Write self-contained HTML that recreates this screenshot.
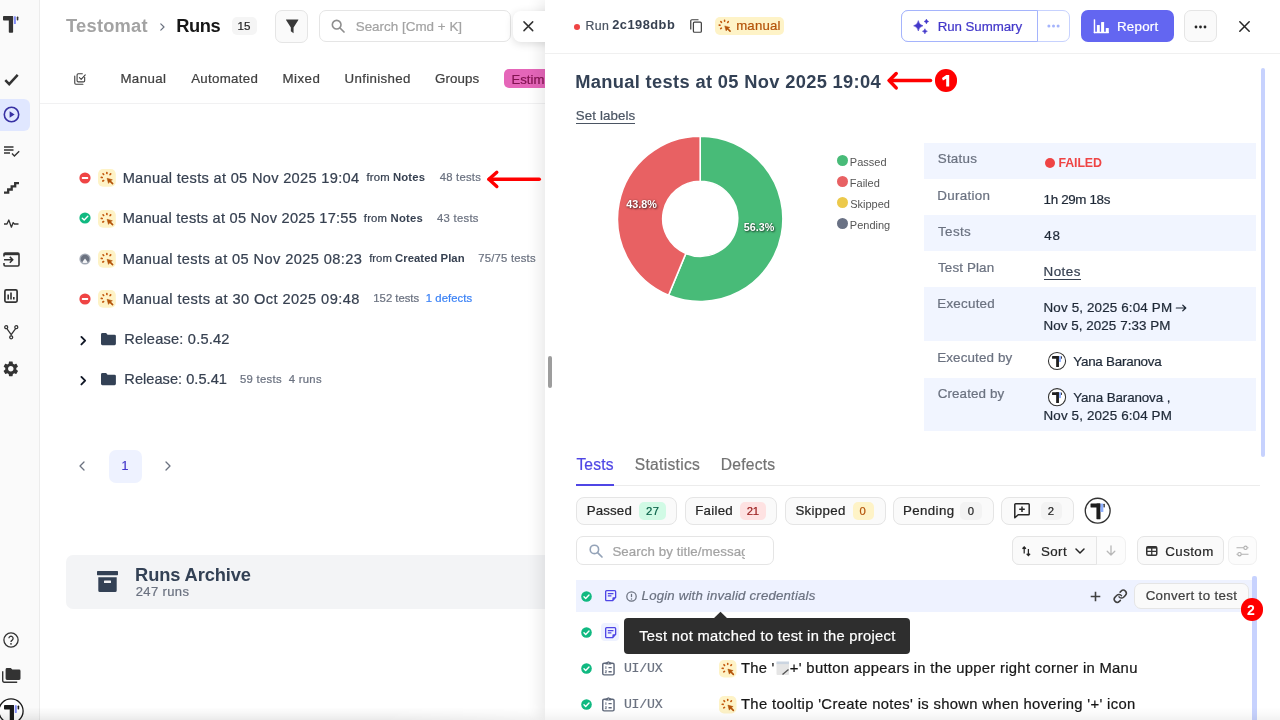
<!DOCTYPE html>
<html>
<head>
<meta charset="utf-8">
<title>Runs</title>
<style>
*{box-sizing:border-box;margin:0;padding:0}
html,body{width:1280px;height:720px;overflow:hidden;background:#fff}
body{font-family:"Liberation Sans",sans-serif;color:#374151;position:relative}
#wrap{position:absolute;left:0;top:0;width:1280px;height:720px;overflow:hidden;will-change:transform}
.abs{position:absolute}
.t{position:absolute;white-space:nowrap;line-height:1;-webkit-text-stroke:.22px currentColor}
b{-webkit-text-stroke:0}
svg{display:block;position:absolute;overflow:visible}
/* sidebar */
#side{left:0;top:0;width:40px;height:720px;background:#fafafa;border-right:1px solid #ececec}
#active{left:0;top:99px;width:30px;height:32px;background:#e0e7ff;border-radius:0 6px 6px 0}
/* main */
#main{left:40px;top:0;width:1240px;height:720px;background:#fff}
.btn{position:absolute;border:1px solid #e5e5e5;border-radius:6px;background:#fafafa}
/* panel */
#panel{left:545px;top:0;width:735px;height:720px;background:#fff;box-shadow:-5px 0 14px rgba(0,0,0,.085)}
#phead{left:0;top:0;width:735px;height:54px;border-bottom:1px solid #f0f0f0}
.row{position:absolute;left:379px;width:332px;height:36px}
.row.z{background:#eff3fe}
.lbl{position:absolute;left:14px;top:9px;font-size:14px;color:#6b7280;white-space:nowrap;line-height:16px}
.val{position:absolute;left:120px;top:13px;font-size:14px;color:#1f2937;white-space:nowrap;line-height:18px}
.fbtn{position:absolute;top:497px;height:28px;border:1px solid #e5e5e5;border-radius:7px;background:#fafafa}
.fbtn .t{top:6px;font-size:14.5px;color:#1f2937}
.cnt{position:absolute;top:4px;height:18px;border-radius:5px;font-size:13px;line-height:18px;text-align:center}
</style>
</head>
<body>
<div id="wrap">
<div id="main" class="abs"></div>
<!-- ===== header ===== -->
<div class="t" style="left:66.02px;top:16.51px;font-size:18.3px;font-weight:700;color:#a3a3a3;-webkit-text-stroke:0;letter-spacing:0.242px" id="t_testomat">Testomat</div>
<svg style="left:159.5px;top:22.5px" width="5" height="8" viewBox="0 0 5 8"><path d="M.8.800l3.200 3.200L.8 7.200" fill="none" stroke="#6b7280" stroke-width="1.200" stroke-linecap="round" stroke-linejoin="round"/></svg>
<div class="t" style="left:176.21px;top:16.51px;font-size:18.3px;font-weight:700;color:#171717;-webkit-text-stroke:0;letter-spacing:-0.410px" id="t_runs">Runs</div>
<div class="abs" style="left:232px;top:17px;width:25px;height:18px;border-radius:5px;background:#f5f5f5"></div>
<div class="t" style="left:237.53px;top:20.18px;font-size:11.6px;color:#262626;letter-spacing:0.058px" id="t_15">15</div>
<div class="btn" style="left:275px;top:10px;width:33px;height:33px;border-radius:7px"></div>
<svg style="left:283.750px;top:15.850px" width="16.400" height="20.700" viewBox="0 0 24 24" preserveAspectRatio="none"><path d="M3.300 4h17.400a.4.400 0 0 1 .3.650L14 13.400v6.600l-4-2.300v-4.300L3 4.650A.4.400 0 0 1 3.300 4z" fill="#3a3a3a"/></svg>
<div class="abs" style="left:319px;top:10px;width:192px;height:32px;border:1px solid #e5e5e5;border-radius:7px;background:#fff"></div>
<svg style="left:330px;top:18px" width="16" height="16" viewBox="0 0 24 24"><circle cx="10" cy="10" r="6.500" fill="none" stroke="#8e8e8e" stroke-width="2.400"/><path d="M15 15l6 6" stroke="#8e8e8e" stroke-width="2.600" stroke-linecap="round"/></svg>
<div class="t" style="left:355.70px;top:19.86px;font-size:13.4px;color:#a3a3a3;letter-spacing:0.021px" id="t_search">Search [Cmd + K]</div>


<!-- ===== tabs ===== -->
<div class="abs" style="left:40px;top:102.800px;width:510px;height:1.600px;background:#f1f1f2"></div>
<svg style="left:73px;top:72px" width="14" height="14" viewBox="0 0 24 24"><path d="M3 7v12a2 2 0 0 0 2 2h12" fill="none" stroke="#404040" stroke-width="1.900" stroke-linecap="round"/><path d="M20 9v6a2 2 0 0 1-2 2H9a2 2 0 0 1-2-2V5a2 2 0 0 1 2-2h7" fill="none" stroke="#404040" stroke-width="1.900" stroke-linecap="round"/><path d="M11 9.5l3 3 7-7.5" fill="none" stroke="#404040" stroke-width="1.900" stroke-linecap="round" stroke-linejoin="round"/></svg>
<div class="t" style="left:120.44px;top:72.44px;font-size:13.3px;color:#404040;letter-spacing:0.361px" id="t_manual">Manual</div>
<div class="t" style="left:191.20px;top:72.44px;font-size:13.3px;color:#404040;letter-spacing:0.287px" id="t_automated">Automated</div>
<div class="t" style="left:282.44px;top:72.44px;font-size:13.3px;color:#404040;letter-spacing:0.479px" id="t_mixed">Mixed</div>
<div class="t" style="left:344.50px;top:72.44px;font-size:13.3px;color:#404040;letter-spacing:0.328px" id="t_unfinished">Unfinished</div>
<div class="t" style="left:435.03px;top:72.44px;font-size:13.3px;color:#404040;letter-spacing:0.101px" id="t_groups">Groups</div>
<div class="abs" style="left:504px;top:69px;width:60px;height:19px;border-radius:5px;background:#e566b9"></div>
<div class="t" style="left:511.45px;top:72.61px;font-size:13.1px;color:#831452;letter-spacing:0.05px" id="t_estim">Estima</div>
<!-- ===== run list placeholder ===== -->
<svg style="left:78.700px;top:171.9px" width="12" height="12" viewBox="0 0 12 12"><circle cx="6" cy="6" r="5.6" fill="#ef4444"/><rect x="2.8" y="5.1" width="6.4" height="1.8" rx=".6" fill="#fff"/></svg>
<svg style="left:98.100px;top:169.4px" width="17.800" height="17.800" viewBox="0 0 17.700 17.700"><rect width="17.700" height="17.700" rx="5" fill="#fef3c7"/><g stroke="#c2570c" stroke-width="1.65" stroke-linecap="round"><path d="M8.84 4.40L8.82 3.50"/><path d="M5.61 5.45L5.01 4.79"/><path d="M4.20 8.49L3.30 8.35"/><path d="M5.56 11.48L4.82 11.98"/><path d="M12.02 5.55L12.60 4.85"/></g><path d="M9 9.200L14.300 10.700 12.500 11.700 10.400 14.300z" fill="#b45309" stroke="#b45309" stroke-width=".5" stroke-linejoin="round"/><path d="M12 12.100l2.500 2.400" stroke="#b45309" stroke-width="1.700" stroke-linecap="round"/></svg>
<div class="t" style="left:122.63px;top:171.04px;font-size:14.6px;color:#374151;letter-spacing:0.315px" id="t_run0">Manual tests at 05 Nov 2025 19:04</div>
<div class="t" style="left:366.53px;top:172.33px;font-size:11.3px;color:#374151;letter-spacing:0.147px" id="t_run0_0">from <b>Notes</b></div>
<div class="t" style="left:439.67px;top:172.33px;font-size:11.3px;color:#6b7280;letter-spacing:0.239px" id="t_run0_1">48 tests</div>
<svg style="left:78.700px;top:212.1px" width="12" height="12" viewBox="0 0 12 12"><circle cx="6" cy="6" r="5.6" fill="#10b981"/><path d="M3.3 6.2l1.9 1.9 3.6-3.8" fill="none" stroke="#fff" stroke-width="1.4" stroke-linecap="round" stroke-linejoin="round"/></svg>
<svg style="left:98.100px;top:209.6px" width="17.800" height="17.800" viewBox="0 0 17.700 17.700"><rect width="17.700" height="17.700" rx="5" fill="#fef3c7"/><g stroke="#c2570c" stroke-width="1.65" stroke-linecap="round"><path d="M8.84 4.40L8.82 3.50"/><path d="M5.61 5.45L5.01 4.79"/><path d="M4.20 8.49L3.30 8.35"/><path d="M5.56 11.48L4.82 11.98"/><path d="M12.02 5.55L12.60 4.85"/></g><path d="M9 9.200L14.300 10.700 12.500 11.700 10.400 14.300z" fill="#b45309" stroke="#b45309" stroke-width=".5" stroke-linejoin="round"/><path d="M12 12.100l2.500 2.400" stroke="#b45309" stroke-width="1.700" stroke-linecap="round"/></svg>
<div class="t" style="left:122.63px;top:211.34px;font-size:14.6px;color:#374151;letter-spacing:0.244px" id="t_run1">Manual tests at 05 Nov 2025 17:55</div>
<div class="t" style="left:363.83px;top:212.53px;font-size:11.3px;color:#374151;letter-spacing:0.192px" id="t_run1_0">from <b>Notes</b></div>
<div class="t" style="left:437.07px;top:212.53px;font-size:11.3px;color:#6b7280;letter-spacing:0.267px" id="t_run1_1">43 tests</div>
<svg style="left:78.700px;top:252.5px" width="12" height="12" viewBox="0 0 12 12"><defs><clipPath id="pc"><circle cx="6" cy="6" r="4.300"/></clipPath></defs><circle cx="6" cy="6" r="5.600" fill="#a3a9b5"/><circle cx="6" cy="6" r="4.300" fill="#6b7280"/><path d="M6 5.600L2.300 10.600h7.400z" fill="#f3f4f6" clip-path="url(#pc)"/></svg>
<svg style="left:98.100px;top:250.0px" width="17.800" height="17.800" viewBox="0 0 17.700 17.700"><rect width="17.700" height="17.700" rx="5" fill="#fef3c7"/><g stroke="#c2570c" stroke-width="1.65" stroke-linecap="round"><path d="M8.84 4.40L8.82 3.50"/><path d="M5.61 5.45L5.01 4.79"/><path d="M4.20 8.49L3.30 8.35"/><path d="M5.56 11.48L4.82 11.98"/><path d="M12.02 5.55L12.60 4.85"/></g><path d="M9 9.200L14.300 10.700 12.500 11.700 10.400 14.300z" fill="#b45309" stroke="#b45309" stroke-width=".5" stroke-linejoin="round"/><path d="M12 12.100l2.500 2.400" stroke="#b45309" stroke-width="1.700" stroke-linecap="round"/></svg>
<div class="t" style="left:122.63px;top:251.74px;font-size:14.6px;color:#374151;letter-spacing:0.400px" id="t_run2">Manual tests at 05 Nov 2025 08:23</div>
<div class="t" style="left:369.13px;top:252.73px;font-size:11.3px;color:#374151;letter-spacing:0.038px" id="t_run2_0">from <b>Created Plan</b></div>
<div class="t" style="left:478.24px;top:252.73px;font-size:11.3px;color:#6b7280;letter-spacing:0.210px" id="t_run2_1">75/75 tests</div>
<svg style="left:78.700px;top:292.8px" width="12" height="12" viewBox="0 0 12 12"><circle cx="6" cy="6" r="5.6" fill="#ef4444"/><rect x="2.8" y="5.1" width="6.4" height="1.8" rx=".6" fill="#fff"/></svg>
<svg style="left:98.100px;top:290.3px" width="17.800" height="17.800" viewBox="0 0 17.700 17.700"><rect width="17.700" height="17.700" rx="5" fill="#fef3c7"/><g stroke="#c2570c" stroke-width="1.65" stroke-linecap="round"><path d="M8.84 4.40L8.82 3.50"/><path d="M5.61 5.45L5.01 4.79"/><path d="M4.20 8.49L3.30 8.35"/><path d="M5.56 11.48L4.82 11.98"/><path d="M12.02 5.55L12.60 4.85"/></g><path d="M9 9.200L14.300 10.700 12.500 11.700 10.400 14.300z" fill="#b45309" stroke="#b45309" stroke-width=".5" stroke-linejoin="round"/><path d="M12 12.100l2.500 2.400" stroke="#b45309" stroke-width="1.700" stroke-linecap="round"/></svg>
<div class="t" style="left:122.63px;top:291.94px;font-size:14.6px;color:#374151;letter-spacing:0.425px" id="t_run3">Manual tests at 30 Oct 2025 09:48</div>
<div class="t" style="left:373.35px;top:293.03px;font-size:11.3px;color:#6b7280;letter-spacing:-0.004px" id="t_run3_0">152 tests</div>
<div class="t" style="left:425.75px;top:293.03px;font-size:11.3px;color:#3b82f6;letter-spacing:0.058px" id="t_run3_1">1 defects</div>
<svg style="left:80.200px;top:335.6px" width="7.500" height="9.400" viewBox="0 0 8 10"><path d="M1.500 1l4 4-4 4" fill="none" stroke="#111827" stroke-width="2" stroke-linecap="round" stroke-linejoin="round"/></svg>
<svg style="left:101.300px;top:332.9px" width="14.900" height="12.200" viewBox="0 0 16 13"><path d="M0 1.5A1.5 1.5 0 0 1 1.5 0h4l1.6 1.8h7.4A1.5 1.5 0 0 1 16 3.3v8.2a1.5 1.5 0 0 1-1.5 1.5h-13A1.5 1.5 0 0 1 0 11.5z" fill="#334155"/></svg>
<div class="t" style="left:124.33px;top:331.94px;font-size:14.6px;color:#374151;letter-spacing:0.209px" id="t_rel0">Release: 0.5.42</div>
<svg style="left:80.200px;top:375.6px" width="7.500" height="9.400" viewBox="0 0 8 10"><path d="M1.500 1l4 4-4 4" fill="none" stroke="#111827" stroke-width="2" stroke-linecap="round" stroke-linejoin="round"/></svg>
<svg style="left:101.300px;top:372.9px" width="14.900" height="12.200" viewBox="0 0 16 13"><path d="M0 1.5A1.5 1.5 0 0 1 1.5 0h4l1.6 1.8h7.4A1.5 1.5 0 0 1 16 3.3v8.2a1.5 1.5 0 0 1-1.5 1.5h-13A1.5 1.5 0 0 1 0 11.5z" fill="#334155"/></svg>
<div class="t" style="left:124.33px;top:372.04px;font-size:14.6px;color:#374151;letter-spacing:0.025px" id="t_rel1">Release: 0.5.41</div>
<div class="t" style="left:240.05px;top:373.63px;font-size:11.3px;color:#6b7280;letter-spacing:0.285px" id="t_rel1_0">59 tests</div>
<div class="t" style="left:288.77px;top:373.63px;font-size:11.3px;color:#6b7280;letter-spacing:0.281px" id="t_rel1_1">4 runs</div>

<svg style="left:79px;top:461px" width="6" height="10" viewBox="0 0 6 10"><path d="M5 1L1 5l4 4" fill="none" stroke="#6b7280" stroke-width="1.3" stroke-linecap="round" stroke-linejoin="round"/></svg>
<div class="abs" style="left:108.800px;top:450px;width:33px;height:32.500px;border-radius:7px;background:#eef2ff"></div>
<div class="t" style="left:121.56px;top:459.92px;font-size:12.5px;color:#4338ca" id="t_pg">1</div>
<svg style="left:165px;top:461px" width="6" height="10" viewBox="0 0 6 10"><path d="M1 1l4 4-4 4" fill="none" stroke="#6b7280" stroke-width="1.3" stroke-linecap="round" stroke-linejoin="round"/></svg>
<div class="abs" style="left:66px;top:555px;width:500px;height:54px;border-radius:7px;background:#f3f4f6"></div>
<svg style="left:97px;top:571px" width="21" height="21" viewBox="0 0 21 21"><rect x="0" y="0" width="21" height="4.2" rx=".6" fill="#334155"/><path d="M1.3 6.2h18.4v13.3a1.5 1.5 0 0 1-1.5 1.5H2.8a1.5 1.5 0 0 1-1.5-1.5z" fill="#334155"/><rect x="7" y="9.5" width="7" height="2.4" rx=".5" fill="#f3f4f6"/></svg>
<div class="t" style="left:135.11px;top:565.81px;font-size:18.3px;font-weight:700;color:#334155;-webkit-text-stroke:0;letter-spacing:-0.124px" id="t_arch">Runs Archive</div>
<div class="t" style="left:135.65px;top:585.30px;font-size:13px;color:#6b7280;letter-spacing:0.391px" id="t_arch2">247 runs</div>
<!--MAINEND-->
<div id="side" class="abs"><div id="active" class="abs"></div>
<svg style="left:3.05px;top:16.25px" width="16.00" height="17.00" viewBox="0 0 16 17"><rect x="0" y="0" width="10.100" height="4.600" rx=".8" fill="#333"/><rect x="5.800" y="0" width="4.300" height="16.800" rx=".8" fill="#333"/><rect x="10.900" y=".3" width="2" height="7.800" rx=".4" fill="#818cf8"/><rect x="13.750" y=".5" width="1.600" height="4.100" rx=".75" fill="#333"/></svg>
<svg style="left:4px;top:73px" width="15" height="13" viewBox="0 0 15 13"><path d="M1.3 7.2l3.9 3.9L13.7 1.8" fill="none" stroke="#333" stroke-width="2.5"/></svg>
<svg style="left:2.500px;top:105.900px" width="17" height="17" viewBox="0 0 17 17"><circle cx="8.5" cy="8.5" r="7.2" fill="none" stroke="#3730a3" stroke-width="1.6"/><path d="M6.6 5.2l5 3.3-5 3.3z" fill="#3730a3"/></svg>
<svg style="left:3.5px;top:146px" width="16" height="11" viewBox="0 0 16 11"><g stroke="#333" stroke-width="1.5" fill="none"><path d="M0 1h9.5M0 4h9.5M0 7h6"/><path d="M8 7.6l2.4 2.4 4.8-4.8" stroke-width="1.4"/></g></svg>
<svg style="left:4px;top:182px" width="15" height="12" viewBox="0 0 15 12"><path d="M0 10.7h4.2V7.5h3.5V4.3h3.5V1.2H15" fill="none" stroke="#333" stroke-width="2.3"/></svg>
<svg style="left:4px;top:219px" width="15" height="9" viewBox="0 0 15 9"><path d="M0 5h3l1.8-4 2.6 7.2L9.2 3.6 10.4 5H14.5" fill="none" stroke="#333" stroke-width="1.3" stroke-linejoin="round"/></svg>
<svg style="left:2.5px;top:252px" width="17" height="15" viewBox="0 0 17 15"><path d="M1 4.5V2.2A1.2 1.2 0 0 1 2.2 1h12.6A1.2 1.2 0 0 1 16 2.2v10.6a1.2 1.2 0 0 1-1.2 1.2H2.2A1.2 1.2 0 0 1 1 12.8V11" fill="none" stroke="#333" stroke-width="1.6"/><rect x="1" y="1" width="15" height="2.2" fill="#333"/><path d="M1 7.8h8.6M6.8 4.9l2.9 2.9-2.9 2.9" fill="none" stroke="#333" stroke-width="1.5"/></svg>
<svg style="left:4px;top:288.5px" width="14" height="14" viewBox="0 0 14 14"><rect x=".9" y=".9" width="12.2" height="12.2" rx="1.3" fill="none" stroke="#333" stroke-width="1.7"/><path d="M4.2 5.5v5M7 3.6v6.9M9.8 8v2.5" stroke="#333" stroke-width="1.6"/></svg>
<svg style="left:4px;top:324.5px" width="14.5" height="14.5" viewBox="0 0 14.5 14.5"><g fill="none" stroke="#333" stroke-width="1.3"><circle cx="2.2" cy="2.2" r="1.5"/><circle cx="12.3" cy="2.2" r="1.5"/><circle cx="7.2" cy="12.3" r="1.5"/><path d="M2.9 3.6l4.3 6v1.2M11.6 3.6l-4.4 6"/></g></svg>
<svg style="left:3.2px;top:360.5px" width="15.6" height="15.6" viewBox="0 0 24 24"><path fill="#333" d="M19.14 12.94c.04-.3.06-.61.06-.94 0-.32-.02-.64-.07-.94l2.03-1.58a.49.49 0 0 0 .12-.61l-1.92-3.32a.488.488 0 0 0-.59-.22l-2.39.96c-.5-.38-1.03-.7-1.62-.94l-.36-2.54a.484.484 0 0 0-.48-.41h-3.84c-.24 0-.43.17-.47.41l-.36 2.54c-.59.24-1.13.57-1.62.94l-2.39-.96c-.22-.08-.47 0-.59.22L2.74 8.87c-.12.21-.08.47.12.61l2.03 1.58c-.05.3-.09.63-.09.94s.02.64.07.94l-2.03 1.58a.49.49 0 0 0-.12.61l1.92 3.32c.12.22.37.29.59.22l2.39-.96c.5.38 1.03.7 1.62.94l.36 2.54c.05.24.24.41.48.41h3.84c.24 0 .44-.17.47-.41l.36-2.54c.59-.24 1.13-.56 1.62-.94l2.39.96c.22.08.47 0 .59-.22l1.92-3.32c.12-.22.07-.47-.12-.61l-2.01-1.58zM12 15.6c-1.98 0-3.600-1.62-3.600-3.600s1.62-3.600 3.600-3.600 3.600 1.62 3.600 3.600-1.62 3.600-3.600 3.600z" transform="translate(12 12) scale(1.18) translate(-12 -12)"/></svg>
<svg style="left:3px;top:631.5px" width="16" height="16" viewBox="0 0 16 16"><circle cx="8" cy="8" r="7.1" fill="none" stroke="#333" stroke-width="1.3"/><path d="M5.9 6.3a2.1 2.1 0 1 1 3.3 1.8c-.8.5-1.2.9-1.2 1.8" fill="none" stroke="#333" stroke-width="1.3"/><circle cx="8" cy="11.8" r=".9" fill="#333"/></svg>
<svg style="left:2px;top:668px" width="18.5" height="15" viewBox="0 0 18.5 15"><path d="M3.6 1.4A1.4 1.4 0 0 1 5 0h3.8l1.5 1.6h6.8a1.4 1.4 0 0 1 1.4 1.4v7.6a1.4 1.4 0 0 1-1.4 1.4H5a1.4 1.4 0 0 1-1.4-1.4z" fill="#333"/><path d="M.7 3.2v9.6a1.5 1.5 0 0 0 1.5 1.5h13" fill="none" stroke="#333" stroke-width="1.4"/></svg>
<svg style="left:-1.800px;top:697.800px" width="26" height="26" viewBox="0 0 26 26"><circle cx="13" cy="13" r="12.100" fill="#fff" stroke="#1a1a1a" stroke-width="1.3"/></svg>
<svg style="left:3.7px;top:705.3px" width="15.84" height="16.83" viewBox="0 0 16 17"><rect x="0" y="0" width="10.100" height="4.600" rx=".8" fill="#1a1a1a"/><rect x="5.800" y="0" width="4.300" height="16.800" rx=".8" fill="#1a1a1a"/><rect x="10.900" y=".3" width="2" height="7.800" rx=".4" fill="#818cf8"/><rect x="13.750" y=".5" width="1.600" height="4.100" rx=".75" fill="#1a1a1a"/></svg>
</div>
<div id="panel" class="abs"><div id="phead" class="abs"></div></div>
<div class="abs" style="left:480px;top:0;width:65px;height:70px;overflow:hidden"><div class="abs" style="left:33px;top:10.500px;width:60px;height:31.500px;border-radius:8px;background:#fff;box-shadow:0 2px 9px rgba(0,0,0,.13)"></div>
<svg style="left:43.300px;top:21.200px" width="10.700" height="10.500" viewBox="0 0 12 12"><path d="M1 1l10 10M11 1L1 11" stroke="#333" stroke-width="1.700" stroke-linecap="round"/></svg></div>
<svg style="left:572.700px;top:22.900px" width="8" height="8" viewBox="0 0 8 8"><circle cx="4" cy="4" r="3.050" fill="#ef4444"/></svg>
<div class="t" style="left:585.62px;top:19.79px;font-size:12.3px;color:#4b5563;letter-spacing:0.326px" id="p_run">Run</div>
<div class="t" style="left:612.15px;top:19.36px;font-size:12.8px;font-weight:700;color:#374151;-webkit-text-stroke:0;letter-spacing:0.513px" id="p_runid">2c198dbb</div>
<svg style="left:690px;top:19.200px" width="12.300" height="14.200" viewBox="0 0 13 15"><path d="M9 .8H2A1.2 1.2 0 0 0 .8 2v9" fill="none" stroke="#404040" stroke-width="1.3"/><rect x="3.6" y="3.4" width="8.4" height="10.6" rx="1.1" fill="none" stroke="#404040" stroke-width="1.3"/></svg>
<div class="abs" style="left:715px;top:17px;width:68.500px;height:17.600px;border-radius:5px;background:#fef3c7"></div>
<svg style="left:716.300px;top:17.300px" width="17.200" height="17.200" viewBox="0 0 17.700 17.700"><g stroke="#c2570c" stroke-width="1.65" stroke-linecap="round"><path d="M8.84 4.40L8.82 3.50"/><path d="M5.61 5.45L5.01 4.79"/><path d="M4.20 8.49L3.30 8.35"/><path d="M5.56 11.48L4.82 11.98"/><path d="M12.02 5.55L12.60 4.85"/></g><path d="M9 9.200L14.300 10.700 12.500 11.700 10.400 14.300z" fill="#b45309" stroke="#b45309" stroke-width=".5" stroke-linejoin="round"/><path d="M12 12.100l2.500 2.400" stroke="#b45309" stroke-width="1.700" stroke-linecap="round"/></svg>
<div class="t" style="left:736.14px;top:19.43px;font-size:13.2px;color:#b45309;letter-spacing:0.224px" id="p_manual">manual</div>
<div class="abs" style="left:901px;top:10px;width:169px;height:32px;border:1px solid #c7d2fe;border-radius:7px;background:#fff"></div>
<div class="abs" style="left:901px;top:10px;width:137px;height:32px;border:1px solid #a5b4fc;border-radius:7px 0 0 7px;background:#fff"></div>
<svg style="left:0;top:0" width="1280" height="60" viewBox="0 0 1280 60"><path d="M918.30 20.60Q919.05 24.97 923.00 25.80Q919.05 26.63 918.30 31.00Q917.55 26.63 913.60 25.80Q917.55 24.97 918.30 20.60ZM926.40 19.10Q926.77 21.12 928.70 21.50Q926.77 21.88 926.40 23.90Q926.03 21.88 924.10 21.50Q926.03 21.12 926.40 19.10ZM924.90 28.70Q925.30 30.88 927.40 31.30Q925.30 31.72 924.90 33.90Q924.50 31.72 922.40 31.30Q924.50 30.88 924.90 28.70Z" fill="#4338ca" stroke="#4338ca" stroke-width=".5" stroke-linejoin="round"/></svg>
<div class="t" style="left:937.64px;top:19.74px;font-size:13.3px;color:#4338ca;letter-spacing:-0.052px" id="p_runsum">Run Summary</div>
<svg style="left:1047.300px;top:24.400px" width="13" height="4" viewBox="0 0 13 4"><circle cx="1.900" cy="2" r="1.500" fill="#a5b4fc"/><circle cx="6.500" cy="2" r="1.500" fill="#a5b4fc"/><circle cx="11.100" cy="2" r="1.500" fill="#a5b4fc"/></svg>
<div class="abs" style="left:1081px;top:10px;width:93px;height:32px;border-radius:7px;background:#6366f1"></div>
<svg style="left:1093px;top:19px" width="16" height="14.500" viewBox="0 0 16 14.500"><g fill="#fff"><rect x=".75" y=".2" width="1.450" height="14" rx=".6"/><rect x=".75" y="12.650" width="15.150" height="1.550" rx=".4"/><rect x="3.900" y="6" width="2.900" height="7.500" rx=".5"/><rect x="8.100" y="3" width="3" height="10.500" rx=".5"/><rect x="12.800" y="8.900" width="3" height="4.600" rx=".5"/></g></svg>
<div class="t" style="left:1116.94px;top:19.64px;font-size:13.3px;color:#fff;letter-spacing:0.266px" id="p_report">Report</div>
<div class="btn" style="left:1184px;top:10px;width:33px;height:32px;border-radius:7px"></div>
<svg style="left:1194px;top:24.500px" width="13" height="4" viewBox="0 0 13 4"><circle cx="2" cy="2" r="1.400" fill="#262626"/><circle cx="6.500" cy="2" r="1.400" fill="#262626"/><circle cx="11" cy="2" r="1.400" fill="#262626"/></svg>
<svg style="left:1238.500px;top:21px" width="11" height="11" viewBox="0 0 11 11"><path d="M.8.800l9.400 9.400M10.200.800L.8 10.200" stroke="#262626" stroke-width="1.500" stroke-linecap="round"/></svg>
<div class="t" style="left:575.21px;top:72.51px;font-size:18.3px;font-weight:700;color:#334155;-webkit-text-stroke:0;letter-spacing:0.337px" id="p_title">Manual tests at 05 Nov 2025 19:04</div>
<svg style="left:0;top:0" width="1280" height="200" viewBox="0 0 1280 200"><g fill="none" stroke="#ff0000" stroke-width="3.500" stroke-linecap="round" stroke-linejoin="round"><path d="M889.300 80.500H930.500"/><path d="M896.200 73.600L889.200 80.500l7 7.400"/></g><g fill="none" stroke="#ff0000" stroke-width="3.400" stroke-linecap="round" stroke-linejoin="round"><path d="M489 179.300H539.300"/><path d="M496.800 172.300L488.900 179.300l7.900 7.200"/></g></svg>
<div class="abs" style="left:934.800px;top:69.200px;width:22.400px;height:22.400px;border-radius:11.200px;background:#ff0000"></div>
<svg style="left:941.600px;top:74.700px" width="7.200" height="11.500" viewBox="0 0 7.200 11.500"><path d="M4.300 0H7.200V11.500H4.200V3.700L.9 5.500 0 3.100z" fill="#fff"/></svg>
<div class="t" style="left:575.80px;top:109.04px;font-size:13.3px;color:#4b5563;border-bottom:1px solid #4b5563;padding-bottom:1px;letter-spacing:0.120px" id="p_setlabels">Set labels</div>
<div class="abs" style="left:1261px;top:68px;width:4px;height:389px;border-radius:2px;background:#c7d2fe"></div>
<svg style="left:0;top:0" width="1280" height="720" viewBox="0 0 1280 720"><path d="M700.20 136.10A82.7 82.7 0 1 1 668.55 295.20L685.85 253.45A37.5 37.5 0 1 0 700.20 181.30Z" fill="#48bb78" stroke="#fff" stroke-width="1.600" stroke-linejoin="round"/><path d="M668.55 295.20A82.7 82.7 0 0 1 700.20 136.10L700.20 181.30A37.5 37.5 0 0 0 685.85 253.45Z" fill="#e86163" stroke="#fff" stroke-width="1.600" stroke-linejoin="round"/></svg>
<div class="t" style="left:626.24px;top:198.56px;font-size:10.8px;font-weight:700;color:#fff;text-shadow:1px 1px 2px rgba(0,0,0,.6),0 0 2px rgba(0,0,0,.35);-webkit-text-stroke:0" id="d_f">43.8%</div>
<div class="t" style="left:743.68px;top:222.46px;font-size:10.8px;font-weight:700;color:#fff;text-shadow:1px 1px 2px rgba(0,0,0,.6),0 0 2px rgba(0,0,0,.35);-webkit-text-stroke:0" id="d_p">56.3%</div>
<div class="abs" style="left:837px;top:154.7px;width:11px;height:11px;border-radius:6px;background:#48bb78"></div>
<div class="t" style="left:849.82px;top:157.09px;font-size:11px;color:#555;-webkit-text-stroke:0" id="lg0">Passed</div>
<div class="abs" style="left:837px;top:175.7px;width:11px;height:11px;border-radius:6px;background:#e86163"></div>
<div class="t" style="left:849.82px;top:178.19px;font-size:11px;color:#555;-webkit-text-stroke:0" id="lg1">Failed</div>
<div class="abs" style="left:837px;top:196.7px;width:11px;height:11px;border-radius:6px;background:#ecc94b"></div>
<div class="t" style="left:850.21px;top:199.29px;font-size:11px;color:#555;-webkit-text-stroke:0" id="lg2">Skipped</div>
<div class="abs" style="left:837px;top:218.2px;width:11px;height:11px;border-radius:6px;background:#697184"></div>
<div class="t" style="left:849.82px;top:220.39px;font-size:11px;color:#555;-webkit-text-stroke:0" id="lg3">Pending</div>
<div class="abs" style="left:923.800px;top:142.6px;width:332.400px;height:36px;background:#f1f5ff;"></div>
<div class="t" style="left:937.70px;top:152.46px;font-size:13.4px;color:#6b7280;letter-spacing:0.257px" id="tl0">Status</div>
<div class="abs" style="left:923.800px;top:178.6px;width:332.400px;height:36.1px;"></div>
<div class="t" style="left:937.23px;top:188.76px;font-size:13.4px;color:#6b7280;letter-spacing:0.318px" id="tl1">Duration</div>
<div class="abs" style="left:923.800px;top:214.7px;width:332.400px;height:36.1px;background:#f1f5ff;"></div>
<div class="t" style="left:938.03px;top:224.86px;font-size:13.4px;color:#6b7280;letter-spacing:0.362px" id="tl2">Tests</div>
<div class="abs" style="left:923.800px;top:250.8px;width:332.400px;height:36px;"></div>
<div class="t" style="left:938.03px;top:260.96px;font-size:13.4px;color:#6b7280;letter-spacing:0.125px" id="tl3">Test Plan</div>
<div class="abs" style="left:923.800px;top:286.8px;width:332.400px;height:54px;background:#f1f5ff;"></div>
<div class="t" style="left:937.23px;top:296.96px;font-size:13.4px;color:#6b7280;letter-spacing:0.243px" id="tl4">Executed</div>
<div class="abs" style="left:923.800px;top:340.8px;width:332.400px;height:36.7px;"></div>
<div class="t" style="left:937.23px;top:351.16px;font-size:13.4px;color:#6b7280;letter-spacing:0.131px" id="tl5">Executed by</div>
<div class="abs" style="left:923.800px;top:377.5px;width:332.400px;height:53.8px;background:#f1f5ff;"></div>
<div class="t" style="left:937.63px;top:387.36px;font-size:13.4px;color:#6b7280;letter-spacing:0.127px" id="tl6">Created by</div>
<div class="abs" style="left:1045px;top:158px;width:10px;height:10px;border-radius:5px;background:#ef4444"></div>
<div class="t" style="left:1058.49px;top:157.30px;font-size:12.4px;font-weight:700;color:#ef4444;-webkit-text-stroke:0;letter-spacing:-0.116px" id="tv0">FAILED</div>
<div class="t" style="left:1043.59px;top:192.66px;color:#1f2937;font-size:13.4px;letter-spacing:-0.349px" id="tv1">1h 29m 18s</div>
<div class="t" style="left:1044.33px;top:228.56px;color:#1f2937;font-size:13.4px;letter-spacing:0.730px" id="tv2">48</div>
<div class="t" style="left:1043.53px;top:264.66px;color:#1f2937;font-size:13.4px;border-bottom:1px solid #374151;padding-bottom:1px;color:#374151;letter-spacing:0.492px" id="tv3">Notes</div>
<div class="t" style="left:1043.53px;top:300.66px;color:#1f2937;font-size:13.4px;letter-spacing:0.151px" id="tv4">Nov 5, 2025 6:04 PM</div>
<svg style="left:1176.300px;top:303.500px" width="10.500" height="8" viewBox="0 0 10.500 8"><path d="M.3 4h9.500M6.800 1.200L9.800 4 6.800 6.800" fill="none" stroke="#1f2937" stroke-width="1.200" stroke-linecap="round" stroke-linejoin="round"/></svg>
<div class="t" style="left:1043.53px;top:318.86px;color:#1f2937;font-size:13.4px;letter-spacing:0.057px" id="tv4b">Nov 5, 2025 7:33 PM</div>
<svg style="left:0;top:0" width="1280" height="720" viewBox="0 0 1280 720"><circle cx="1057.03" cy="361.03" r="8.57" fill="#fff" stroke="#333" stroke-width="1.05"/><rect x="1052.04" y="356.10" width="6.93" height="2.66" rx="0.30" fill="#1f1f1f"/><rect x="1056.15" y="356.10" width="2.82" height="10.85" rx="0.30" fill="#1f1f1f"/><rect x="1058.97" y="356.10" width="1.98" height="5.80" fill="#8fb0ff"/><rect x="1061.10" y="356.28" width="0.85" height="2.50" rx="0.30" fill="#1f1f1f"/></svg>
<div class="t" style="left:1073.23px;top:354.66px;color:#1f2937;font-size:13.4px;letter-spacing:-0.235px" id="tv5">Yana Baranova</div>
<svg style="left:0;top:0" width="1280" height="720" viewBox="0 0 1280 720"><circle cx="1057.03" cy="397.20" r="8.57" fill="#fff" stroke="#333" stroke-width="1.05"/><rect x="1052.04" y="392.27" width="6.93" height="2.66" rx="0.30" fill="#1f1f1f"/><rect x="1056.15" y="392.27" width="2.82" height="10.85" rx="0.30" fill="#1f1f1f"/><rect x="1058.97" y="392.27" width="1.98" height="5.80" fill="#8fb0ff"/><rect x="1061.10" y="392.45" width="0.85" height="2.50" rx="0.30" fill="#1f1f1f"/></svg>
<div class="t" style="left:1073.23px;top:390.86px;color:#1f2937;font-size:13.4px;letter-spacing:-0.116px" id="tv6">Yana Baranova ,</div>
<div class="t" style="left:1043.53px;top:408.86px;color:#1f2937;font-size:13.4px;letter-spacing:0.140px" id="tv6b">Nov 5, 2025 6:04 PM</div>
<div class="abs" style="left:576px;top:485px;width:684px;height:1px;background:#ececec"></div>
<div class="abs" style="left:576px;top:484px;width:37.5px;height:2px;background:#4f46e5"></div>
<div class="t" style="left:576.39px;top:456.99px;font-size:15.6px;color:#4f46e5;letter-spacing:0.183px" id="tb0">Tests</div>
<div class="t" style="left:634.70px;top:456.99px;font-size:15.6px;color:#737373;letter-spacing:0.316px" id="tb1">Statistics</div>
<div class="t" style="left:720.75px;top:456.99px;font-size:15.6px;color:#737373;letter-spacing:0.235px" id="tb2">Defects</div>
<div class="abs" style="left:576px;top:496.700px;width:101px;height:28.800px;border:1px solid #e5e5e5;border-radius:8px;background:#fafafa"></div>
<div class="t" style="left:586.64px;top:504.14px;font-size:13.3px;color:#262626;letter-spacing:0.161px" id="ch0">Passed</div>
<div class="abs" style="left:639px;top:502px;width:27px;height:18px;border-radius:5px;background:#d1fae5"></div>
<div class="t" style="left:646.03px;top:505.63px;font-size:11.3px;color:#065f46;letter-spacing:0.387px" id="chn0">27</div>
<div class="abs" style="left:685px;top:496.700px;width:92px;height:28.800px;border:1px solid #e5e5e5;border-radius:8px;background:#fafafa"></div>
<div class="t" style="left:695.24px;top:504.14px;font-size:13.3px;color:#262626;letter-spacing:0.244px" id="ch1">Failed</div>
<div class="abs" style="left:739.5px;top:502px;width:26.5px;height:18px;border-radius:5px;background:#fee2e2"></div>
<div class="t" style="left:746.73px;top:505.63px;font-size:11.3px;color:#991b1b;letter-spacing:-0.269px" id="chn1">21</div>
<div class="abs" style="left:785px;top:496.700px;width:100.5px;height:28.800px;border:1px solid #e5e5e5;border-radius:8px;background:#fafafa"></div>
<div class="t" style="left:795.40px;top:504.14px;font-size:13.3px;color:#262626;letter-spacing:0.320px" id="ch2">Skipped</div>
<div class="abs" style="left:852.5px;top:502px;width:21.5px;height:18px;border-radius:5px;background:#fef3c7"></div>
<div class="t" style="left:859.55px;top:505.63px;font-size:11.3px;color:#b45309" id="chn2">0</div>
<div class="abs" style="left:892.5px;top:496.700px;width:101.0px;height:28.800px;border:1px solid #e5e5e5;border-radius:8px;background:#fafafa"></div>
<div class="t" style="left:902.94px;top:504.14px;font-size:13.3px;color:#262626;letter-spacing:0.392px" id="ch3">Pending</div>
<div class="abs" style="left:960px;top:502px;width:21.5px;height:18px;border-radius:5px;background:#f3f3f3"></div>
<div class="t" style="left:967.65px;top:505.63px;font-size:11.3px;color:#262626" id="chn3">0</div>
<div class="abs" style="left:1000.5px;top:496.700px;width:73.0px;height:28.800px;border:1px solid #e5e5e5;border-radius:8px;background:#fafafa"></div>
<div class="abs" style="left:1041px;top:502px;width:21px;height:18px;border-radius:5px;background:#f3f3f3"></div>
<div class="t" style="left:1047.84px;top:505.63px;font-size:11.3px;color:#262626" id="chn4">2</div>
<svg style="left:1013.5px;top:503px" width="16" height="15.500" viewBox="0 0 16 15.500"><path d="M1.600.8h12.800a.8.800 0 0 1 .8.800v9.300a.8.800 0 0 1-.8.800H4.200L.8 14.800V1.600a.8.800 0 0 1 .8-.8z" fill="none" stroke="#262626" stroke-width="1.500" stroke-linejoin="round"/><path d="M8 3.400v5.600M5.200 6.200h5.600" stroke="#262626" stroke-width="1.500"/></svg>
<svg style="left:0;top:0" width="1280" height="720" viewBox="0 0 1280 720"><circle cx="1097.70" cy="510.70" r="12.42" fill="#fff" stroke="#333" stroke-width="1.35"/><rect x="1090.52" y="503.60" width="9.98" height="3.83" rx="0.43" fill="#1f1f1f"/><rect x="1096.43" y="503.60" width="4.06" height="15.62" rx="0.43" fill="#1f1f1f"/><rect x="1100.49" y="503.60" width="2.85" height="8.35" fill="#8fb0ff"/><rect x="1103.56" y="503.86" width="1.22" height="3.60" rx="0.43" fill="#1f1f1f"/></svg>
<div class="abs" style="left:575.700px;top:536px;width:198.500px;height:28.500px;border:1px solid #e5e5e5;border-radius:7px;background:#fff"></div>
<svg style="left:589px;top:544px" width="14" height="14" viewBox="0 0 14 14"><circle cx="5.400" cy="5.400" r="4.200" fill="none" stroke="#94a3b8" stroke-width="1.600"/><path d="M8.600 8.600l4.400 4.400" stroke="#94a3b8" stroke-width="1.700" stroke-linecap="round"/></svg>
<div class="t" style="left:612.40px;top:544.74px;font-size:13.3px;color:#a3a3a3;width:132.5px;overflow:hidden;height:18px;letter-spacing:0.078px" id="srch2">Search by title/message</div>
<div class="abs" style="left:1012px;top:536px;width:114px;height:28.500px;border:1px solid #f0f0f0;border-radius:7px;background:#fcfcfc"></div>
<div class="abs" style="left:1012px;top:536px;width:85px;height:28.500px;border:1px solid #e5e5e5;border-radius:7px 0 0 7px;background:#fafafa"></div>
<svg style="left:1022px;top:545.600px" width="8.600" height="10.600" viewBox="0 0 8.600 10.600"><path d="M2.200 7.600V1.100M.5 2.800L2.200 1l1.700 1.800M6.400 3v6.500M4.700 7.800l1.700 1.800 1.700-1.800" fill="none" stroke="#262626" stroke-width="1.250"/></svg>
<div class="t" style="left:1041.00px;top:544.54px;font-size:13.3px;color:#262626;letter-spacing:0.409px" id="sort">Sort</div>
<svg style="left:1075px;top:548px" width="10" height="6" viewBox="0 0 10 6"><path d="M1 1l4 4 4-4" fill="none" stroke="#262626" stroke-width="1.500" stroke-linecap="round" stroke-linejoin="round"/></svg>
<svg style="left:1105.500px;top:545px" width="10" height="11" viewBox="0 0 10 11"><path d="M5 .8v9M1.200 6.200L5 10l3.800-3.800" fill="none" stroke="#b8b8b8" stroke-width="1.300" stroke-linecap="round" stroke-linejoin="round"/></svg>
<div class="abs" style="left:1136.500px;top:536px;width:87.500px;height:28.500px;border:1px solid #e5e5e5;border-radius:7px;background:#fafafa"></div>
<svg style="left:1145.800px;top:545.600px" width="11.500" height="10" viewBox="0 0 11.500 10"><rect x=".75" y=".75" width="10" height="8.500" rx="1.200" fill="none" stroke="#333" stroke-width="1.500"/><path d="M.75 5.300h10M5.750 2v7.200" stroke="#333" stroke-width="1.300"/><rect x=".75" y=".75" width="10" height="1.900" fill="#333"/></svg>
<div class="t" style="left:1165.34px;top:544.54px;font-size:13.3px;color:#262626;letter-spacing:0.422px" id="custom">Custom</div>
<div class="abs" style="left:1228px;top:536px;width:29px;height:28.500px;border:1px solid #f0f0f0;border-radius:7px;background:#fcfcfc"></div>
<svg style="left:1236px;top:545px" width="13" height="12" viewBox="0 0 13 12"><g fill="none" stroke="#b0b0b0" stroke-width="1.100"><path d="M.5 2.800h7.300M11.300 2.800h1.200M.5 9.200h1.200M5.200 9.200h7.300"/><circle cx="9.500" cy="2.800" r="1.700"/><circle cx="3.500" cy="9.200" r="1.700"/></g></svg>
<div class="abs" style="left:576px;top:580px;width:676px;height:32px;background:#eef2ff"></div>
<svg style="left:580.6px;top:590.6px" width="11" height="11" viewBox="0 0 11 11"><circle cx="5.500" cy="5.500" r="5.300" fill="#10b981"/><path d="M3 5.700l1.700 1.700 3.300-3.500" fill="none" stroke="#fff" stroke-width="1.400" stroke-linecap="round" stroke-linejoin="round"/></svg>
<svg style="left:604.600px;top:590.300px" width="11.300" height="11.400" viewBox="0 0 12 12"><path d="M1.700.7h8.600a1 1 0 0 1 1 1v6.100L8 11.300H1.700a1 1 0 0 1-1-1V1.700a1 1 0 0 1 1-1z" fill="none" stroke="#4f46e5" stroke-width="1.400" stroke-linejoin="round"/><path d="M11.300 7.600H8.700a.8.800 0 0 0-.8.800v2.900z" fill="#4f46e5"/><path d="M3 3.900h6M3 6.200h3.800" stroke="#4f46e5" stroke-width="1.300"/></svg>
<svg style="left:625.800px;top:590.900px" width="11" height="11" viewBox="0 0 11 11"><circle cx="5.500" cy="5.500" r="4.700" fill="none" stroke="#6b7280" stroke-width="1.250"/><path d="M5.500 2.900v3.200" stroke="#6b7280" stroke-width="1.250"/><circle cx="5.500" cy="7.900" r=".75" fill="#6b7280"/></svg>
<div class="t" style="left:641.60px;top:589.03px;font-size:13.2px;font-style:italic;color:#6b7280;letter-spacing:0.201px" id="r1">Login with invalid credentials</div>
<svg style="left:1090.300px;top:590.600px" width="11" height="11" viewBox="0 0 11 11"><path d="M5.500.7v9.600M.7 5.500h9.600" stroke="#404040" stroke-width="1.600"/></svg>
<svg style="left:1112.500px;top:589px" width="14.500" height="14.500" viewBox="0 0 24 24"><g fill="none" stroke="#404040" stroke-width="2.500" stroke-linecap="round" stroke-linejoin="round"><path d="M10 13a5 5 0 0 0 7.540.540l3-3a5 5 0 0 0-7.070-7.070l-1.720 1.710"/><path d="M14 11a5 5 0 0 0-7.540-.540l-3 3a5 5 0 0 0 7.070 7.070l1.710-1.710"/></g></svg>
<div class="abs" style="left:1134px;top:583px;width:114.500px;height:26px;border:1px solid #e5e5e5;border-radius:7px;background:#fafafa"></div>
<div class="t" style="left:1145.63px;top:589.14px;font-size:13.3px;color:#404040;letter-spacing:0.342px" id="conv">Convert to test</div>
<svg style="left:580.6px;top:626.6px" width="11" height="11" viewBox="0 0 11 11"><circle cx="5.500" cy="5.500" r="5.300" fill="#10b981"/><path d="M3 5.700l1.700 1.700 3.300-3.500" fill="none" stroke="#fff" stroke-width="1.400" stroke-linecap="round" stroke-linejoin="round"/></svg>
<div class="abs" style="left:600.900px;top:623px;width:18px;height:18.100px;border-radius:4px;background:#eef2ff"></div>
<svg style="left:604.600px;top:626.600px" width="11.300" height="11.400" viewBox="0 0 12 12"><path d="M1.700.7h8.600a1 1 0 0 1 1 1v6.100L8 11.300H1.700a1 1 0 0 1-1-1V1.700a1 1 0 0 1 1-1z" fill="none" stroke="#4f46e5" stroke-width="1.400" stroke-linejoin="round"/><path d="M11.300 7.600H8.700a.8.800 0 0 0-.8.800v2.900z" fill="#4f46e5"/><path d="M3 3.900h6M3 6.200h3.800" stroke="#4f46e5" stroke-width="1.300"/></svg>
<svg style="left:580.6px;top:662.6px" width="11" height="11" viewBox="0 0 11 11"><circle cx="5.500" cy="5.500" r="5.300" fill="#10b981"/><path d="M3 5.700l1.700 1.700 3.300-3.500" fill="none" stroke="#fff" stroke-width="1.400" stroke-linecap="round" stroke-linejoin="round"/></svg>
<svg style="left:602px;top:660.55px" width="12.800" height="14.700" viewBox="0 0 12.800 14.700"><rect x=".75" y="2.200" width="11.300" height="11.700" rx="1.400" fill="none" stroke="#5f687a" stroke-width="1.450"/><path d="M4.100 3V1.900h1.300a1 1 0 0 1 2 0h1.300V3z" fill="#fff" stroke="#5f687a" stroke-width="1.200" stroke-linejoin="round"/><path d="M6.500 6.600h3.200M6.500 10.700h3.200" stroke="#5f687a" stroke-width="1.400"/><path d="M3.900 5.300v2.600M3.200 9.800h1.400l-1.400 1.900h1.500" fill="none" stroke="#5f687a" stroke-width=".9"/></svg>
<div class="t" style="left:623.88px;top:661.68px;font-family:'Liberation Mono',monospace;font-size:13.2px;color:#6b7280;letter-spacing:-0.203px" id="ui0">UI/UX</div>
<svg style="left:719.3px;top:659.6px" width="17.5" height="17.5" viewBox="0 0 17.700 17.700"><rect width="17.700" height="17.700" rx="5" fill="#fef3c7"/><g stroke="#c2570c" stroke-width="1.65" stroke-linecap="round"><path d="M8.84 4.40L8.82 3.50"/><path d="M5.61 5.45L5.01 4.79"/><path d="M4.20 8.49L3.30 8.35"/><path d="M5.56 11.48L4.82 11.98"/><path d="M12.02 5.55L12.60 4.85"/></g><path d="M9 9.200L14.300 10.700 12.500 11.700 10.400 14.300z" fill="#b45309" stroke="#b45309" stroke-width=".5" stroke-linejoin="round"/><path d="M12 12.100l2.500 2.400" stroke="#b45309" stroke-width="1.700" stroke-linecap="round"/></svg>
<div class="t" style="left:741.00px;top:660.57px;font-size:14.8px;color:#171717;letter-spacing:0.206px" id="rt0a">The '</div>
<div class="t" style="left:789.86px;top:660.57px;font-size:14.8px;color:#171717;letter-spacing:0.305px" id="rt0b">+' button appears in the upper right corner in Manu</div>
<svg style="left:580.6px;top:698.6px" width="11" height="11" viewBox="0 0 11 11"><circle cx="5.500" cy="5.500" r="5.300" fill="#10b981"/><path d="M3 5.700l1.700 1.700 3.300-3.500" fill="none" stroke="#fff" stroke-width="1.400" stroke-linecap="round" stroke-linejoin="round"/></svg>
<svg style="left:602px;top:696.55px" width="12.800" height="14.700" viewBox="0 0 12.800 14.700"><rect x=".75" y="2.200" width="11.300" height="11.700" rx="1.400" fill="none" stroke="#5f687a" stroke-width="1.450"/><path d="M4.100 3V1.900h1.300a1 1 0 0 1 2 0h1.300V3z" fill="#fff" stroke="#5f687a" stroke-width="1.200" stroke-linejoin="round"/><path d="M6.500 6.600h3.200M6.500 10.700h3.200" stroke="#5f687a" stroke-width="1.400"/><path d="M3.900 5.300v2.600M3.200 9.800h1.400l-1.400 1.900h1.500" fill="none" stroke="#5f687a" stroke-width=".9"/></svg>
<div class="t" style="left:623.88px;top:697.88px;font-family:'Liberation Mono',monospace;font-size:13.2px;color:#6b7280;letter-spacing:-0.203px" id="ui1">UI/UX</div>
<svg style="left:719.3px;top:695.6px" width="17.5" height="17.5" viewBox="0 0 17.700 17.700"><rect width="17.700" height="17.700" rx="5" fill="#fef3c7"/><g stroke="#c2570c" stroke-width="1.65" stroke-linecap="round"><path d="M8.84 4.40L8.82 3.50"/><path d="M5.61 5.45L5.01 4.79"/><path d="M4.20 8.49L3.30 8.35"/><path d="M5.56 11.48L4.82 11.98"/><path d="M12.02 5.55L12.60 4.85"/></g><path d="M9 9.200L14.300 10.700 12.500 11.700 10.400 14.300z" fill="#b45309" stroke="#b45309" stroke-width=".5" stroke-linejoin="round"/><path d="M12 12.100l2.500 2.400" stroke="#b45309" stroke-width="1.700" stroke-linecap="round"/></svg>
<div class="t" style="left:741.00px;top:696.87px;font-size:14.8px;color:#171717;letter-spacing:0.333px" id="rt1">The tooltip 'Create notes' is shown when hovering '+' icon</div>
<svg style="left:775.500px;top:660.500px" width="13.500" height="14.500" viewBox="0 0 13.500 14.500"><rect x=".5" y="1.500" width="12.500" height="12.500" rx="1" fill="#e5e5e5"/><rect x=".5" y=".5" width="12.500" height="2.600" fill="#cbd5e1"/><path d="M6.500 13.500l6-5" stroke="#525252" stroke-width="1.300"/></svg>
<svg style="left:713px;top:611px" width="15" height="8" viewBox="0 0 15 8"><path d="M0 8L7.500.8 15 8z" fill="#2e2e2e"/></svg>
<div class="abs" style="left:624px;top:618px;width:286px;height:36px;border-radius:4px;background:#2e2e2e"></div>
<div class="t" style="left:639.21px;top:628.56px;font-size:14.7px;color:#fff;letter-spacing:0.316px" id="tip">Test not matched to test in the project</div>
<div class="abs" style="left:1252px;top:576px;width:4.500px;height:150px;border-radius:2px 2px 0 0;background:#c7d2fe"></div>
<div class="abs" style="left:1240.500px;top:598.100px;width:22.600px;height:22.600px;border-radius:11.300px;background:#ff0000"></div>
<div class="t" style="left:1247.01px;top:602.75px;font-size:14px;font-weight:700;color:#fff;-webkit-text-stroke:0" id="two">2</div>
<div class="abs" style="left:0;top:707px;width:1280px;height:13px;background:linear-gradient(to bottom,rgba(0,0,0,0),rgba(0,0,0,.02) 50%,rgba(0,0,0,.05))"></div>
<div class="abs" style="left:0;top:707px;width:545px;height:13px;background:linear-gradient(to bottom,rgba(0,0,0,0),rgba(0,0,0,.03));-webkit-mask-image:linear-gradient(to right,#000 70%,transparent)"></div>
<div class="abs" style="left:548.300px;top:355.500px;width:4.200px;height:32.500px;border-radius:2.100px;background:#9d9d9d"></div>
<!--END-->
</div>
</body>
</html>
